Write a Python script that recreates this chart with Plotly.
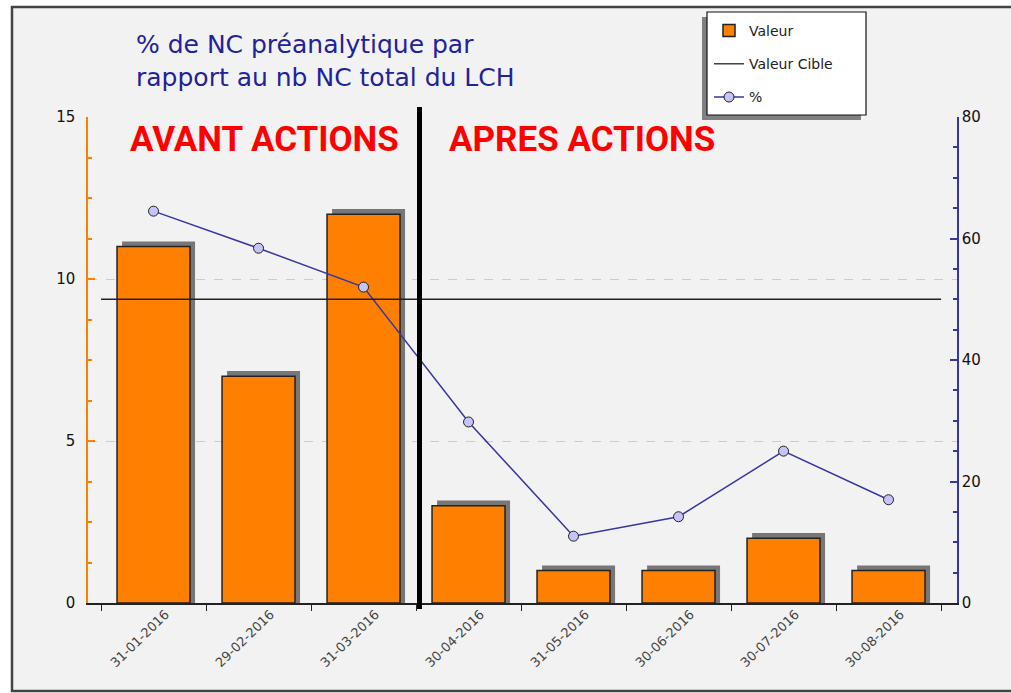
import plotly.graph_objects as go

categories = ["31-01-2016", "29-02-2016", "31-03-2016", "30-04-2016",
              "31-05-2016", "30-06-2016", "30-07-2016", "30-08-2016"]
valeur = [11, 7, 12, 3, 1, 1, 2, 1]
pourcent = [64.5, 58.4, 52.0, 29.8, 11.0, 14.2, 25.0, 17.0]
valeur_cible = 50

W, H = 1011, 693
L, R, T, B = 88, 54, 117, 90
PW, PH = W - L - R, H - T - B

def px(x):
    return (x - L) / PW

def py(y):
    return (H - B - y) / PH

BAR_W = 0.695
SH_DX = 0.048   # shadow offset (category units)
SH_DY = 0.16    # shadow offset (y units)

fig = go.Figure()

# bar shadows
fig.add_trace(go.Bar(
    x=categories, y=[v + SH_DY for v in valeur], width=BAR_W,
    offset=-BAR_W / 2 + SH_DX, marker=dict(color="#777777", line=dict(width=0)),
    showlegend=False, hoverinfo="skip"))
# bars
fig.add_trace(go.Bar(
    x=categories, y=valeur, width=BAR_W, offset=-BAR_W / 2,
    marker=dict(color="#ff8000", line=dict(color="#222222", width=1.5)),
    name="Valeur", legendgroup="a"))
# target legend entry
fig.add_trace(go.Scatter(
    x=[None], y=[None], mode="lines", line=dict(color="#222222", width=1.3),
    name="Valeur Cible", legendgroup="b", yaxis="y2"))
# percentage line
fig.add_trace(go.Scatter(
    x=categories, y=pourcent, mode="lines+markers", yaxis="y2",
    line=dict(color="#3535a8", width=1.5),
    marker=dict(symbol="circle", size=10, color="#c4c4fa",
                line=dict(color="#222222", width=1)),
    name="%", legendgroup="c"))

shapes = [
    # outer frame
    dict(type="rect", xref="paper", yref="paper", x0=px(12), x1=px(1030),
         y0=py(691), y1=py(7), fillcolor="#f2f2f2",
         line=dict(color="#444444", width=2.5), layer="below"),
    # legend shadow and box
    dict(type="rect", xref="paper", yref="paper", x0=px(702), x1=px(861),
         y0=py(120), y1=py(17), fillcolor="#808080", line=dict(width=0),
         layer="above"),
    dict(type="rect", xref="paper", yref="paper", x0=px(707), x1=px(866),
         y0=py(115), y1=py(12), fillcolor="#ffffff",
         line=dict(color="#111111", width=1.2), layer="above"),
    # target line
    dict(type="line", xref="x", yref="y2", x0=-0.5, x1=7.5,
         y0=valeur_cible, y1=valeur_cible, line=dict(color="#222222", width=1.3)),
    # separator
    dict(type="line", xref="paper", yref="paper", x0=px(419.5), x1=px(419.5),
         y0=py(609), y1=py(107), line=dict(color="#000000", width=5)),
]

red_font = dict(family="Roboto", size=35, color="#ff0000", weight="bold")
annotations = [
    dict(text="AVANT ACTIONS", xref="paper", yref="paper", x=px(264), y=py(140),
         xanchor="center", yanchor="middle", showarrow=False, font=red_font),
    dict(text="APRES ACTIONS", xref="paper", yref="paper", x=px(582), y=py(140),
         xanchor="center", yanchor="middle", showarrow=False, font=red_font),
    dict(text="% de NC préanalytique par<br>rapport au nb NC total du LCH",
         xref="paper", yref="paper", x=px(134), y=py(28), xanchor="left",
         yanchor="top", align="left", showarrow=False,
         font=dict(family="DejaVu Sans", size=25, color="#22229a")),
]

fig.update_layout(
    width=W, height=H,
    margin=dict(l=L, r=R, t=T, b=B, autoexpand=False),
    paper_bgcolor="#ffffff", plot_bgcolor="#ffffff",
    barmode="overlay",
    font=dict(family="DejaVu Sans", size=13, color="#222222"),
    shapes=shapes, annotations=annotations,
    xaxis=dict(type="category", range=[-0.624, 7.652], tickson="boundaries",
               ticks="outside", ticklen=6, tickcolor="#222222",
               showline=True, linecolor="#222222", linewidth=1.5,
               showgrid=False, tickangle=-44, ticklabelshift=12,
               ticklabelstandoff=-3,
               tickfont=dict(family="DejaVu Sans", size=13, color="#444444")),
    yaxis=dict(range=[0, 15], tickvals=[0, 5, 10, 15], ticks="inside",
               ticklen=7, tickcolor="#ff8000", tickwidth=1.5,
               showline=True, linecolor="#ff8000", linewidth=1.5,
               showgrid=True, gridcolor="#cccccc", griddash="dash", gridwidth=1,
               zeroline=False, ticklabelstandoff=8,
               minor=dict(dtick=1.25, ticks="inside", ticklen=4,
                          tickcolor="#ff8000", showgrid=False),
               tickfont=dict(family="DejaVu Sans", size=15, color="#111111")),
    yaxis2=dict(range=[0, 80], tickvals=[0, 20, 40, 60, 80], overlaying="y",
                side="right", ticks="inside", ticklen=7, tickcolor="#3535a8",
                tickwidth=1.5, showline=True, linecolor="#3535a8", linewidth=1.5,
                showgrid=False, zeroline=False,
                minor=dict(dtick=5, ticks="inside", ticklen=4,
                           tickcolor="#3535a8", showgrid=False),
                tickfont=dict(family="DejaVu Sans", size=15, color="#111111")),
    legend=dict(x=px(709), y=py(15), xanchor="left", yanchor="top",
                bgcolor="rgba(0,0,0,0)", borderwidth=0,
                font=dict(family="DejaVu Sans", size=14, color="#222222"),
                tracegroupgap=12, traceorder="grouped", itemwidth=30),
)

fig.write_html("out.html", config={"displayModeBar": False},
               post_script="document.body.style.margin='0';document.body.style.overflow='hidden';")
